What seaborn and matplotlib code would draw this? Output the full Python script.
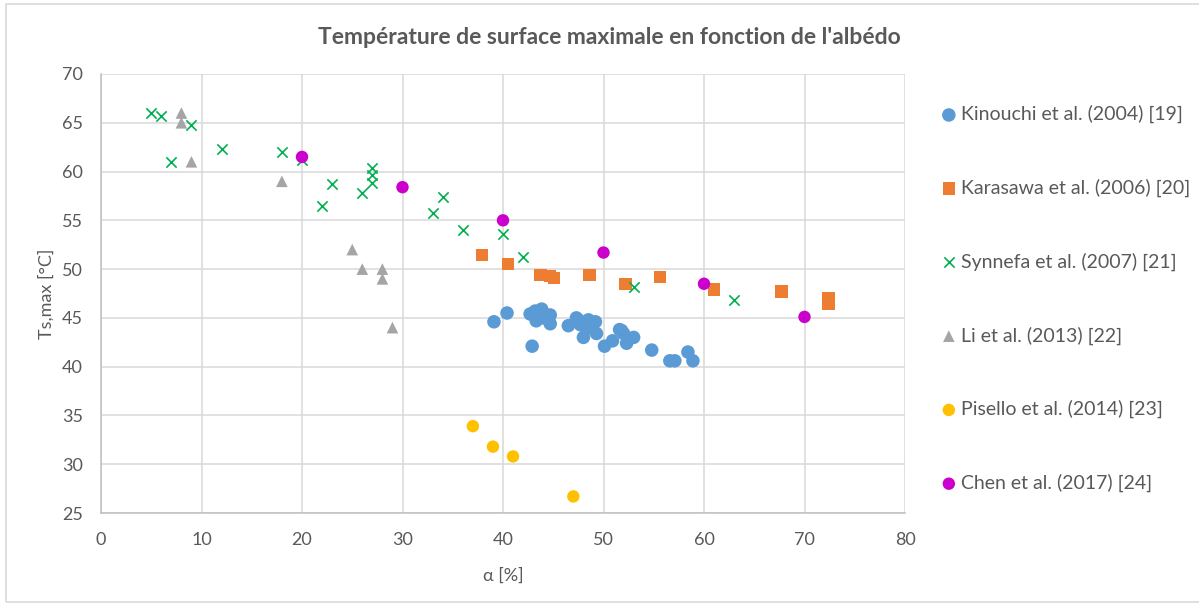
import numpy as np
import pandas as pd
import matplotlib
matplotlib.use("Agg")
import matplotlib.pyplot as plt
from matplotlib.patches import Rectangle
import seaborn as sns

# Data (albedo %, max surface temperature °C)
kin_x = [39.1, 40.4, 42.9, 42.7, 43.2, 43.85, 43.3, 44.7, 44.7, 44.0, 46.5, 47.3, 47.7, 48.5,
         49.2, 48.0, 48.3, 49.3, 50.1, 50.9, 51.6, 52.0, 52.3, 53.0, 54.8, 56.6, 57.1, 58.4,
         58.9, 47.5, 51.8]
kin_y = [44.6, 45.5, 42.1, 45.4, 45.7, 45.9, 44.7, 45.3, 44.4, 45.0, 44.2, 45.0, 44.3, 44.8,
         44.6, 43.0, 43.9, 43.4, 42.1, 42.65, 43.8, 43.4, 42.4, 43.0, 41.7, 40.6, 40.6, 41.5,
         40.6, 44.8, 43.7]

kar_x = [37.9, 40.5, 43.75, 44.7, 45.1, 48.6, 52.2, 55.6, 61.0, 67.7, 72.4, 72.4]
kar_y = [51.45, 50.5, 49.4, 49.3, 49.1, 49.4, 48.5, 49.2, 47.9, 47.7, 47.0, 46.4]

syn_x = [5, 6, 9, 7, 12, 18, 20, 23, 22, 27, 27, 27, 26, 34, 33, 36, 40, 42, 53, 63]
syn_y = [66.0, 65.7, 64.8, 61.0, 62.3, 62.0, 61.2, 58.7, 56.5, 60.4, 59.6, 58.8, 57.8, 57.4,
         55.8, 54.0, 53.6, 51.2, 48.2, 46.8]

li_x = [8, 8, 9, 18, 25, 26, 28, 28, 29]
li_y = [66, 65, 61, 59, 52, 50, 50, 49, 44]

pis_x = [37, 39, 41, 47]
pis_y = [33.9, 31.8, 30.8, 26.7]

chen_x = [20, 30, 40, 50, 60, 70]
chen_y = [61.5, 58.4, 55.0, 51.7, 48.5, 45.1]

series = [
    ("Kinouchi et al. (2004) [19]", kin_x, kin_y, "#5B9BD5", "o", 95),
    ("Karasawa et al. (2006) [20]", kar_x, kar_y, "#ED7D31", "s", 80),
    ("Synnefa et al. (2007) [21]", syn_x, syn_y, "#00B050", "x", 55),
    ("Li et al. (2013) [22]", li_x, li_y, "#A5A5A5", "^", 70),
    ("Pisello et al. (2014) [23]", pis_x, pis_y, "#FFC000", "o", 80),
    ("Chen et al. (2017) [24]", chen_x, chen_y, "#CC00CC", "o", 80),
]

sns.set_theme(style="whitegrid")
plt.rcParams["font.family"] = ["Lato", "DejaVu Sans"]
txt = "#595959"

fig = plt.figure(figsize=(11.99, 6.05), dpi=100)
ax = fig.add_axes([101 / 1199, 1 - 513 / 605, 804 / 1199, 439 / 605])

for name, xs, ys, col, mk, sz in series:
    df = pd.DataFrame({"x": xs, "y": ys})
    if mk == "x":
        sns.scatterplot(data=df, x="x", y="y", ax=ax, color=col, marker=mk, s=sz,
                        linewidth=1.2, label=name, zorder=3)
    else:
        sns.scatterplot(data=df, x="x", y="y", ax=ax, color=col, marker=mk, s=sz,
                        edgecolor="none", linewidth=0, label=name, zorder=3)

ax.set_xlim(0, 80)
ax.set_ylim(25, 70)
ax.set_xticks(np.arange(0, 81, 10))
ax.set_yticks(np.arange(25, 71, 5))
ax.grid(True, color="#D9D9D9", linewidth=1.1)
ax.set_axisbelow(True)
for side in ["top", "right"]:
    ax.spines[side].set_visible(False)
for side in ["left", "bottom"]:
    ax.spines[side].set_color("#BFBFBF")
    ax.spines[side].set_linewidth(1.1)
ax.tick_params(axis="both", length=0, labelsize=13, labelcolor=txt)
ax.tick_params(axis="y", pad=13)
ax.tick_params(axis="x", pad=13.5)
ax.set_xlabel("α [%]", fontsize=13, color=txt, labelpad=14)
ax.set_ylabel("Ts,max [°C]", fontsize=13, color=txt, labelpad=5)
fig.text(609 / 1199, 1 - 37 / 605, "Température de surface maximale en fonction de l'albédo",
         ha="center", va="center", fontsize=16.5, fontweight="bold", color=txt)

handles, labels = ax.get_legend_handles_labels()
ax.get_legend().remove()
fig.legend(handles, labels, loc="upper left", bbox_to_anchor=(943 / 1199, 1 - 105 / 605),
           frameon=False, fontsize=14, labelcolor=txt, labelspacing=2.85,
           handlelength=0.6, handletextpad=0.35, borderaxespad=0, borderpad=0)

fig.patches.append(Rectangle((6 / 1199, 3 / 605), 1.2, 598 / 605, transform=fig.transFigure,
                             fill=False, edgecolor="#D9D9D9", linewidth=1.2))

fig.savefig("out.png", dpi=100, facecolor="white")
